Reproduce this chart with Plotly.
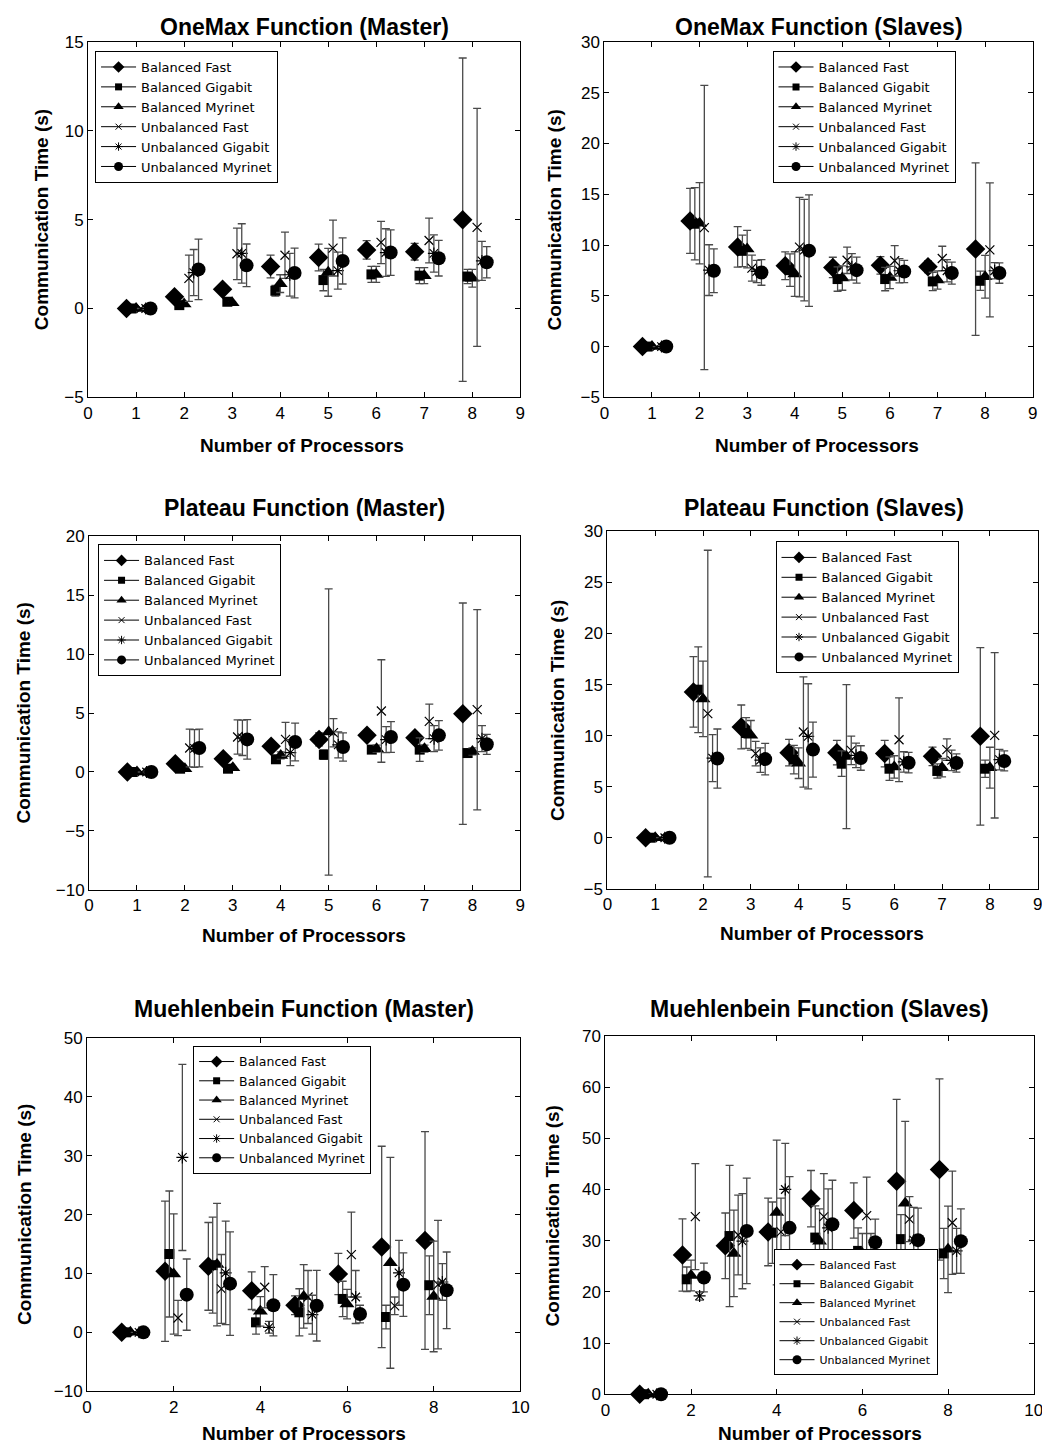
import plotly.graph_objects as go

# ---------------- data ----------------
PROCESSORS = [1, 2, 3, 4, 5, 6, 7, 8]
SERIES_NAMES = ["Balanced Fast", "Balanced Gigabit", "Balanced Myrinet",
                "Unbalanced Fast", "Unbalanced Gigabit", "Unbalanced Myrinet"]

# rows: BF, BG, BM, UF, UG, UM ; columns: processors 1..8
ONEMAX_MASTER_MEAN = [
    [0, 0.66, 1.08, 2.36, 2.87, 3.30, 3.20, 5.00],
    [0, 0.19, 0.38, 1.00, 1.60, 1.92, 1.85, 1.80],
    [0, 0.25, 0.32, 1.40, 2.04, 1.92, 1.85, 1.70],
    [0, 1.70, 3.08, 3.00, 3.40, 3.72, 3.83, 4.57],
    [0, 2.02, 3.10, 1.90, 2.13, 3.15, 3.10, 2.68],
    [0, 2.20, 2.43, 2.00, 2.68, 3.15, 2.83, 2.60],
]
ONEMAX_MASTER_ERR = [
    [0, 0.10, 0.10, 0.64, 0.75, 0.52, 0.47, 9.10],
    [0, 0.05, 0.05, 0.30, 0.60, 0.45, 0.45, 0.40],
    [0, 0.05, 0.05, 0.50, 1.35, 0.45, 0.45, 0.50],
    [0, 1.30, 1.45, 1.30, 1.57, 1.19, 1.26, 6.70],
    [0, 1.30, 1.67, 1.20, 1.04, 1.34, 1.05, 1.10],
    [0, 1.70, 1.20, 1.40, 1.30, 1.28, 1.00, 0.88],
]

ONEMAX_SLAVES_MEAN = [
    [0, 12.38, 9.82, 7.96, 7.80, 8.00, 7.86, 9.60],
    [0, 12.10, 9.43, 7.53, 6.65, 6.65, 6.42, 6.48],
    [0, 12.15, 9.60, 7.14, 6.75, 6.80, 6.55, 6.88],
    [0, 11.72, 7.73, 9.80, 8.50, 8.45, 8.68, 9.53],
    [0, 7.53, 7.40, 9.50, 7.86, 7.47, 7.47, 7.47],
    [0, 7.47, 7.30, 9.45, 7.53, 7.40, 7.24, 7.24],
]
ONEMAX_SLAVES_ERR = [
    [0, 3.20, 2.00, 1.36, 1.00, 0.87, 0.57, 8.50],
    [0, 3.55, 1.55, 1.60, 1.20, 1.15, 0.90, 0.95],
    [0, 4.00, 1.85, 2.20, 1.20, 1.10, 0.90, 2.10],
    [0, 14.00, 1.28, 4.90, 1.30, 1.50, 1.20, 6.60],
    [0, 2.50, 1.10, 5.00, 1.30, 1.20, 1.10, 0.80],
    [0, 2.16, 1.26, 5.50, 1.28, 1.10, 1.08, 1.00],
]

PLATEAU_MASTER_MEAN = [
    [0, 0.70, 1.13, 2.18, 2.77, 3.11, 2.90, 4.95],
    [0, 0.28, 0.28, 1.08, 1.47, 1.90, 1.90, 1.61],
    [0, 0.28, 0.37, 1.41, 3.40, 1.98, 1.98, 1.75],
    [0, 2.04, 2.97, 2.77, 3.34, 5.18, 4.30, 5.29],
    [0, 2.00, 2.90, 1.64, 2.30, 2.75, 2.83, 2.83],
    [0, 2.04, 2.77, 2.55, 2.12, 2.97, 3.11, 2.35],
]
PLATEAU_MASTER_ERR = [
    [0, 0.05, 0.05, 0.30, 0.55, 0.40, 0.35, 9.40],
    [0, 0.05, 0.05, 0.30, 0.40, 0.30, 1.00, 0.20],
    [0, 0.05, 0.05, 0.30, 12.15, 0.30, 0.30, 0.30],
    [0, 1.60, 1.46, 1.45, 1.20, 4.35, 1.47, 8.50],
    [0, 1.60, 1.50, 1.10, 1.10, 1.10, 1.10, 1.10],
    [0, 1.60, 1.68, 1.60, 1.20, 1.30, 1.25, 0.85],
]

PLATEAU_SLAVES_MEAN = [
    [0, 14.28, 10.85, 8.33, 8.33, 8.24, 7.97, 9.93],
    [0, 14.50, 10.26, 7.65, 7.25, 6.76, 6.54, 6.76],
    [0, 13.60, 10.03, 7.30, 7.95, 6.93, 6.86, 6.86],
    [0, 12.16, 8.24, 10.36, 8.56, 9.60, 8.63, 10.03],
    [0, 7.80, 7.60, 9.93, 8.07, 7.42, 7.58, 7.65],
    [0, 7.75, 7.70, 8.63, 7.81, 7.35, 7.32, 7.52],
]
PLATEAU_SLAVES_ERR = [
    [0, 3.45, 2.15, 1.30, 1.20, 1.30, 0.90, 8.70],
    [0, 4.20, 1.50, 1.40, 1.25, 1.15, 0.70, 0.85],
    [0, 3.70, 1.45, 1.50, 7.05, 1.10, 0.90, 2.00],
    [0, 16.00, 1.20, 5.40, 1.40, 4.10, 1.05, 8.10],
    [0, 2.30, 1.20, 5.15, 1.20, 1.00, 1.00, 1.00],
    [0, 2.90, 1.55, 2.70, 1.20, 1.00, 0.90, 0.98],
]

MUEHLENBEIN_MASTER_MEAN = [
    [0, 10.37, 11.20, 7.08, 4.60, 9.90, 14.50, 15.60],
    [0, 13.30, 11.40, 1.70, 3.40, 5.67, 2.60, 8.00],
    [0, 9.90, 11.50, 3.57, 6.10, 4.80, 11.80, 6.10],
    [0, 2.44, 7.37, 7.65, 6.00, 13.20, 4.50, 8.10],
    [0, 29.70, 10.10, 0.85, 3.00, 6.00, 10.10, 8.55],
    [0, 6.40, 8.27, 4.60, 4.53, 3.10, 8.10, 7.14],
]
MUEHLENBEIN_MASTER_ERR = [
    [0, 11.90, 7.45, 3.20, 1.60, 3.50, 17.10, 18.50],
    [0, 10.70, 8.15, 2.00, 4.00, 3.00, 2.00, 5.00],
    [0, 10.20, 10.40, 2.50, 5.40, 2.50, 17.90, 9.40],
    [0, 3.00, 5.85, 3.50, 4.50, 7.20, 1.50, 10.90],
    [0, 15.80, 8.80, 1.00, 3.30, 4.50, 5.50, 3.10],
    [0, 6.05, 8.80, 5.20, 6.00, 1.50, 5.40, 6.50],
]

MUEHLENBEIN_SLAVES_MEAN = [
    [0, 27.20, 29.00, 31.70, 38.20, 35.90, 41.60, 43.90],
    [0, 22.45, 30.90, 31.55, 30.60, 28.00, 30.30, 27.50],
    [0, 23.20, 27.50, 35.50, 29.90, 27.50, 37.30, 28.30],
    [0, 34.70, 31.10, 31.70, 34.70, 34.90, 34.20, 33.50],
    [0, 19.20, 29.90, 40.00, 32.50, 27.20, 30.10, 28.00],
    [0, 22.80, 31.90, 32.50, 33.20, 29.70, 30.10, 29.90],
]
MUEHLENBEIN_SLAVES_ERR = [
    [0, 7.05, 6.40, 6.60, 5.50, 5.40, 16.00, 17.70],
    [0, 2.40, 13.80, 6.00, 6.20, 4.50, 4.80, 4.90],
    [0, 3.00, 8.45, 14.15, 6.30, 3.90, 16.00, 8.45],
    [0, 10.35, 7.80, 6.60, 8.40, 7.50, 4.40, 10.10],
    [0, 0.80, 9.30, 9.00, 7.60, 4.20, 6.40, 4.40],
    [0, 2.80, 10.30, 10.00, 8.60, 4.50, 6.25, 6.30],
]

PANEL_TITLES = ["OneMax Function (Master)", "OneMax Function (Slaves)",
                "Plateau Function (Master)", "Plateau Function (Slaves)",
                "Muehlenbein Function (Master)", "Muehlenbein Function (Slaves)"]
X_TITLE = "Number of Processors"
Y_TITLE = "Communication Time (s)"

# ---------------- layout / style ----------------
W, H = 1050, 1447
# the photographed page shows the figure slightly shifted and scaled;
# positions below are given in target-picture pixels and mapped back.
SHIFT_X, SHIFT_Y, SCALE = 12.0, 17.0, 0.986
OFFSETS = [-0.2, -0.1, 0.0, 0.1, 0.2, 0.3]
SYMBOLS = ["diamond", "square", "triangle-up", "x-thin", "asterisk", "circle"]
SIZES = [15, 10, 13, 9, 10, 14]
LEG_SIZES = [9, 7, 9, 6, 7, 9]


def fx(x, lo=0.0):
    return max((x - SHIFT_X) / SCALE, lo)


def fy(y, lo=0.0):
    return max((y - SHIFT_Y) / SCALE, lo)


def px(x, lo=0.0):
    return fx(x, lo) / W


def py(y, lo=0.0):
    return 1 - fy(y, lo) / H


panels = [
    dict(mean=ONEMAX_MASTER_MEAN, err=ONEMAX_MASTER_ERR, box=(87, 519, 42, 397),
         xr=[0, 9], yr=[-5, 15], dx=1, dy=5, leg=(94, 51, "top"), legfont=13,
         title=(303, 18), xt=(301, 445), yt=(40, 220)),
    dict(mean=ONEMAX_SLAVES_MEAN, err=ONEMAX_SLAVES_ERR, box=(603, 1031, 42, 397),
         xr=[0, 9], yr=[-5, 30], dx=1, dy=5, leg=(771, 51, "top"), legfont=13,
         title=(817, 18), xt=(815, 445), yt=(553, 220)),
    dict(mean=PLATEAU_MASTER_MEAN, err=PLATEAU_MASTER_ERR, box=(88, 519, 536, 889),
         xr=[0, 9], yr=[-10, 20], dx=1, dy=5, leg=(97, 544, "top"), legfont=13,
         title=(303, 508), xt=(303, 935), yt=(20, 712)),
    dict(mean=PLATEAU_SLAVES_MEAN, err=PLATEAU_SLAVES_ERR, box=(606, 1036, 531, 888),
         xr=[0, 9], yr=[-5, 30], dx=1, dy=5, leg=(774, 541, "top"), legfont=13,
         title=(822, 508), xt=(820, 933), yt=(556, 710)),
    dict(mean=MUEHLENBEIN_MASTER_MEAN, err=MUEHLENBEIN_MASTER_ERR, box=(86, 519, 1037, 1390),
         xr=[0, 10], yr=[-10, 50], dx=2, dy=10, leg=(192, 1045, "top"), legfont=12.5,
         title=(303, 1008), xt=(303, 1432), yt=(22, 1213)),
    dict(mean=MUEHLENBEIN_SLAVES_MEAN, err=MUEHLENBEIN_SLAVES_ERR, box=(604, 1032, 1035, 1393),
         xr=[0, 10], yr=[0, 70], dx=2, dy=10, leg=(772, 1374, "bottom"), legfont=11,
         title=(818, 1008), xt=(818, 1432), yt=(551, 1215)),
]

FONT = "Liberation Sans, Arial, sans-serif"
LEG_FONT = "DejaVu Sans, Liberation Sans, sans-serif"
fig = go.Figure()
annotations = []
layout = dict(width=W, height=H, margin=dict(l=0, r=0, t=0, b=0),
              paper_bgcolor="white", plot_bgcolor="white", showlegend=True,
              font=dict(family=FONT, color="black"))

for p_i, p in enumerate(panels):
    k = p_i + 1
    xa = "x" if k == 1 else f"x{k}"
    ya = "y" if k == 1 else f"y{k}"
    legname = "legend" if k == 1 else f"legend{k}"
    x0, x1, y0, y1 = p["box"]
    axis_common = dict(showgrid=False, zeroline=False, showline=True, linecolor="black",
                       linewidth=1, mirror="ticks", ticks="inside", ticklen=5,
                       tickcolor="black", tickfont=dict(size=17, family=FONT, color="black"))
    layout["xaxis" if k == 1 else f"xaxis{k}"] = dict(
        axis_common, domain=[px(x0), px(x1)], range=p["xr"], dtick=p["dx"], tick0=0,
        anchor=ya)
    layout["yaxis" if k == 1 else f"yaxis{k}"] = dict(
        axis_common, domain=[py(y1), py(y0)], range=p["yr"], dtick=p["dy"], tick0=0,
        anchor=xa)
    lx, ly, lanchor = p["leg"]
    layout[legname] = dict(x=px(lx), y=py(ly), xanchor="left", yanchor=lanchor,
                           bgcolor="white", bordercolor="black", borderwidth=1,
                           font=dict(size=p["legfont"], family=LEG_FONT, color="black"),
                           tracegroupgap=0, itemwidth=35)

    for s in range(6):
        xs = [n + OFFSETS[s] for n in PROCESSORS]
        line_sym = SYMBOLS[s] in ("x-thin", "asterisk")
        fig.add_trace(go.Scatter(
            x=xs, y=p["mean"][s], mode="markers", xaxis=xa, yaxis=ya,
            showlegend=False, cliponaxis=False, name=SERIES_NAMES[s],
            marker=dict(symbol=SYMBOLS[s], size=SIZES[s], color="black",
                        line=dict(width=1.2 if line_sym else 0, color="black")),
            error_y=dict(type="data", array=p["err"][s], visible=True,
                         color="#4a4a4a", thickness=1.3, width=4),
        ))
    for s in range(6):
        line_sym = SYMBOLS[s] in ("x-thin", "asterisk")
        fig.add_trace(go.Scatter(
            x=[None], y=[None], mode="lines+markers", xaxis=xa, yaxis=ya,
            name=SERIES_NAMES[s], legend=legname, showlegend=True,
            line=dict(color="black", width=1),
            marker=dict(symbol=SYMBOLS[s], size=LEG_SIZES[s], color="black",
                        line=dict(width=1 if line_sym else 0, color="black")),
        ))

    tx, ty = p["title"]
    annotations.append(dict(text=f"<b>{PANEL_TITLES[p_i]}</b>", x=px(tx), y=py(ty, 10),
                            xref="paper", yref="paper", showarrow=False,
                            xanchor="center", yanchor="middle",
                            font=dict(size=23, family=FONT, color="black")))
    xtx, xty = p["xt"]
    annotations.append(dict(text=f"<b>{X_TITLE}</b>", x=px(xtx), y=py(xty),
                            xref="paper", yref="paper", showarrow=False,
                            xanchor="center", yanchor="middle",
                            font=dict(size=19, family=FONT, color="black")))
    ytx, yty = p["yt"]
    annotations.append(dict(text=f"<b>{Y_TITLE}</b>", x=px(ytx, 11), y=py(yty),
                            xref="paper", yref="paper", showarrow=False, textangle=-90,
                            xanchor="center", yanchor="middle",
                            font=dict(size=19, family=FONT, color="black")))

layout["annotations"] = annotations
fig.update_layout(**layout)
fig.write_html("out.html")
